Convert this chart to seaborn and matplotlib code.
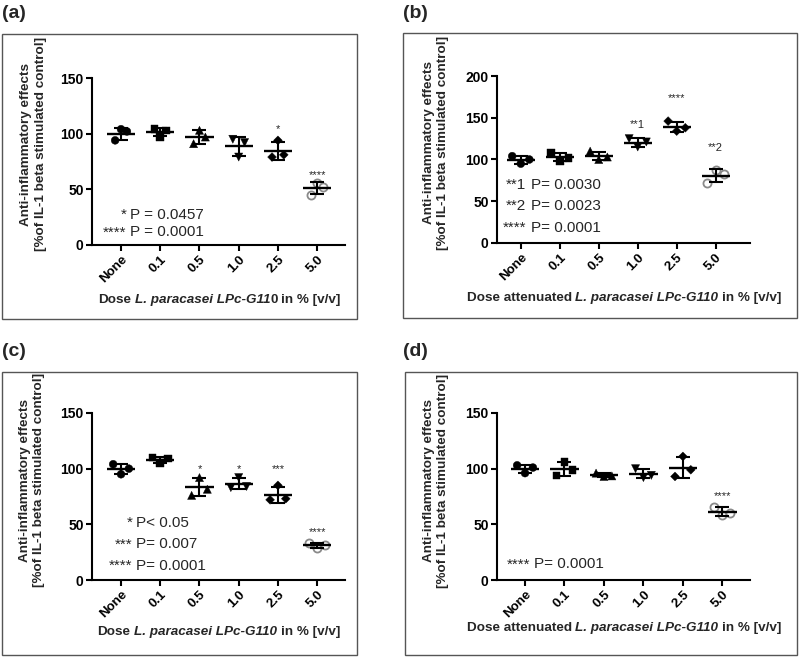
import numpy as np
import pandas as pd
import matplotlib
matplotlib.use("Agg")
import matplotlib.pyplot as plt
from matplotlib.patches import Rectangle
import seaborn as sns

sns.set_theme(style="white")
plt.rcParams['font.family'] = ['Liberation Sans', 'DejaVu Sans']

# ---------------- data ----------------
doses = ["None", "0.1", "0.5", "1.0", "2.5", "5.0"]

# values per dose, ordered left / middle / right replicate
a_vals = [[94, 104, 102], [104, 97, 103], [91, 103, 97],
          [95, 79, 92], [79, 94, 81], [45, 56, 52]]
b_vals = [[104, 95, 100], [108, 98, 102], [110, 100, 103],
          [125, 115, 121], [146, 134, 138], [72, 87, 83]]
c_vals = [[104, 95, 100], [110, 105, 109], [76, 92, 81.5],
          [83, 92, 84], [72, 85, 73], [33, 28.5, 31.5]]
d_vals = [[103, 96, 101], [94, 106, 99], [96, 93, 93.5],
          [100, 92, 94], [93, 111, 99], [66, 58, 60]]

a_stars = {"2.5": ("*", 104), "5.0": ("****", 63)}
b_stars = {"1.0": ("**1", 141), "2.5": ("****", 174), "5.0": ("**2", 114)}
c_stars = {"0.5": ("*", 100), "1.0": ("*", 100), "2.5": ("***", 100), "5.0": ("****", 43)}
d_stars = {"5.0": ("****", 75)}

a_ptext = [("*", "P = 0.0457"), ("****", "P = 0.0001")]
b_ptext = [("**1", "P= 0.0030"), ("**2", "P= 0.0023"), ("****", "P= 0.0001")]
c_ptext = [("*", "P< 0.05"), ("***", "P= 0.007"), ("****", "P= 0.0001")]
d_ptext = [("****", "P= 0.0001")]

ylabel_lines = ["Anti-inflammatory effects", "[%of IL-1 beta stimulated control]"]
xlabel_a = [("Dose", "normal"), ("L. paracasei LPc-G11", "italic"), ("0", "normal_nospace"),
            ("in % [v/v]", "normal")]
xlabel_b = [("Dose attenuated", "normal"), ("L. paracasei LPc-G110", "italic"), ("in % [v/v]", "normal")]
xlabel_c = [("Dose", "normal"), ("L. paracasei LPc-G110", "italic"), ("in % [v/v]", "normal")]

# ---------------- layout ----------------
W, H = 800, 657
fig = plt.figure(figsize=(8, 6.57), dpi=100)
fig.patch.set_facecolor("white")

def fx(px):
    return px / W

def fy(py):
    return 1 - py / H

panels = [
    dict(label="(a)", vals=a_vals, stars=a_stars, ptext=a_ptext, xlab=xlabel_a,
         ax=(92, 345, 78, 245), ylim=150, xlim=(-0.74, 5.71), spread=0.15,
         frame=(2, 357, 34, 319), lab=(2, 14), ylab=(33.5, 144), xlabpos=(219.5, 300),
         pxy=(0.24, [27, 11.4])),
    dict(label="(b)", vals=b_vals, stars=b_stars, ptext=b_ptext, xlab=xlabel_b,
         ax=(497, 750, 76, 243), ylim=200, xlim=(-0.61, 5.88), spread=0.22,
         frame=(403, 797, 33, 318), lab=(403, 14), ylab=(436, 143), xlabpos=(624, 298),
         pxy=(0.25, [70, 44, 18])),
    dict(label="(c)", vals=c_vals, stars=c_stars, ptext=c_ptext, xlab=xlabel_c,
         ax=(92, 345, 413, 580), ylim=150, xlim=(-0.74, 5.71), spread=0.2,
         frame=(2, 357, 372, 655), lab=(2, 352), ylab=(32, 480), xlabpos=(219, 632),
         pxy=(0.39, [51.6, 32, 12.6])),
    dict(label="(d)", vals=d_vals, stars=d_stars, ptext=d_ptext, xlab=xlabel_b,
         ax=(497, 750, 413, 580), ylim=150, xlim=(-0.71, 5.70), spread=0.2,
         frame=(405, 797, 372, 655), lab=(403, 352), ylab=(436, 481), xlabpos=(624, 628),
         pxy=(0.24, [14])),
]

marker_map = {"None": "o", "0.1": "s", "0.5": "^", "1.0": "v", "2.5": "D", "5.0": "o"}
size_map = {"None": 32, "0.1": 30, "0.5": 34, "1.0": 34, "2.5": 20, "5.0": 34}

renderer = fig.canvas.get_renderer()

def draw_pieces(xc, yc, pieces, fs=9.5):
    texts = []
    for txt, st in pieces:
        t = fig.text(0, 0, txt, fontsize=fs, fontweight="bold",
                     fontstyle="italic" if st == "italic" else "normal",
                     ha="left", va="center")
        texts.append((t, st))
    widths = [t.get_window_extent(renderer).width for t, _ in texts]
    gap = 0.278 * fs * 100 / 72
    total = 0
    for i, (t, st) in enumerate(texts):
        if i > 0 and st != "normal_nospace":
            total += gap
        total += widths[i]
    x = xc - total / 2
    for i, (t, st) in enumerate(texts):
        if i > 0 and st != "normal_nospace":
            x += gap
        t.set_position((fx(x), fy(yc)))
        x += widths[i]

for p in panels:
    l, r, t, b = p["ax"]
    ax = fig.add_axes([fx(l), fy(b), (r - l) / W, (b - t) / H])
    ax.set_facecolor("white")

    rows = []
    for i, d in enumerate(doses):
        for j, v in enumerate(p["vals"][i]):
            rows.append(dict(dose=d, value=v, xpos=i + (j - 1) * p["spread"]))
    df = pd.DataFrame(rows)

    filled = df[df["dose"] != "5.0"]
    sns.scatterplot(data=filled, x="xpos", y="value", style="dose",
                    markers={k: marker_map[k] for k in doses[:5]},
                    size="dose", sizes={k: size_map[k] for k in doses[:5]},
                    color="black", edgecolor="black", linewidth=0.3,
                    legend=False, ax=ax, zorder=3)
    open_df = df[df["dose"] == "5.0"]
    sns.scatterplot(data=open_df, x="xpos", y="value", marker="o", s=size_map["5.0"],
                    facecolor="white", edgecolor="#8a8a8a", linewidth=1.3,
                    legend=False, ax=ax, zorder=2)

    stats = df.groupby("dose", sort=False)["value"].agg(["mean", "std"]).reindex(doses)
    xs = np.arange(len(doses))
    ax.hlines(stats["mean"], xs - 0.36, xs + 0.36, color="black", lw=1.7, zorder=4)
    ax.errorbar(xs, stats["mean"], yerr=stats["std"], fmt="none", ecolor="black",
                elinewidth=1.5, capsize=4.7, capthick=1.5, zorder=4)

    for d, (s, yv) in p["stars"].items():
        ax.text(doses.index(d), yv, s, ha="center", va="center", fontsize=8)

    px, pys = p["pxy"]
    for (pre, rest), yv in zip(p["ptext"], pys):
        ax.annotate(pre, (px, yv), xytext=(-3, 0), textcoords="offset points",
                    ha="right", va="center", fontsize=11)
        ax.text(px, yv, rest, ha="left", va="center", fontsize=11)

    ax.set_xlim(*p["xlim"])
    ax.set_ylim(0, p["ylim"])
    ax.set_yticks(np.arange(0, p["ylim"] + 1, 50))
    ax.set_xticks(xs)
    ax.set_xticklabels(doses, rotation=45, ha="right", rotation_mode="anchor",
                       fontweight="bold", fontsize=9.5)
    for lbl in ax.get_yticklabels():
        lbl.set_fontweight("bold")
        lbl.set_fontsize(10)
    ax.set_xlabel("")
    ax.set_ylabel("")
    for sp in ["top", "right"]:
        ax.spines[sp].set_visible(False)
    for sp in ["left", "bottom"]:
        ax.spines[sp].set_color("black")
        ax.spines[sp].set_linewidth(1.5)
    ax.tick_params(axis="both", direction="out", length=4, width=1.5, color="black",
                   pad=2, left=True, bottom=True, labelcolor="black")

    fl, fr, ft, fb = p["frame"]
    fig.patches.append(Rectangle((fx(fl), fy(fb)), (fr - fl) / W, (fb - ft) / H,
                                 transform=fig.transFigure, fill=False,
                                 edgecolor="#555555", lw=1.0, zorder=0))
    fig.text(fx(p["lab"][0]), fy(p["lab"][1]), p["label"], fontsize=14,
             fontweight="bold", ha="left", va="center")
    fig.text(fx(p["ylab"][0]), fy(p["ylab"][1]), "\n".join(ylabel_lines),
             rotation=90, ha="center", va="center", fontsize=9.7,
             fontweight="bold", linespacing=1.25, multialignment="center")
    draw_pieces(p["xlabpos"][0], p["xlabpos"][1], p["xlab"], fs=9.7)

fig.savefig("out.png", dpi=100, facecolor="white")
